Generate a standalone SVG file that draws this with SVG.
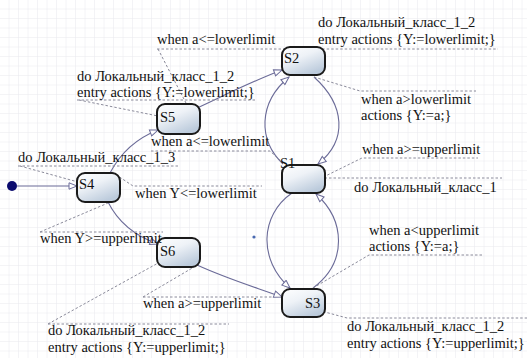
<svg xmlns="http://www.w3.org/2000/svg" width="527" height="358" viewBox="0 0 527 358">
<style>
text{font-family:"Liberation Serif","Times New Roman",serif;font-size:14.5px;fill:#111}
.node{fill:url(#ng);stroke:#1a1a1a;stroke-width:2}
.tr{fill:none;stroke:#6b6b98;stroke-width:1.1}
.ld{fill:none;stroke:#8a8a9a;stroke-width:1;stroke-dasharray:2.5,2}
</style>
<defs>
<pattern id="grid" width="9.5" height="9.5" patternUnits="userSpaceOnUse">
<path d="M9.5 0V9.5H0" fill="none" stroke="#e9e9ee" stroke-width="1"/>
</pattern>
<linearGradient id="ng" x1="0" y1="0" x2="0.6" y2="1">
<stop offset="0" stop-color="#ffffff"/>
<stop offset="0.45" stop-color="#eef2f7"/>
<stop offset="1" stop-color="#bccbdc"/>
</linearGradient>
<marker id="ah" markerWidth="10" markerHeight="8" refX="9" refY="4" orient="auto" markerUnits="userSpaceOnUse">
<path d="M1 0.8L9 4L1 7.2Z" fill="#fff" stroke="#6b6b98" stroke-width="1"/>
</marker>
</defs>
<rect width="527" height="358" fill="#fff"/>
<rect width="527" height="358" fill="url(#grid)"/>
<circle cx="254" cy="237" r="1.6" fill="#4a6ab0"/>

<g id="connectors">
<path class="tr" d="M17 186H77" marker-end="url(#ah)"/>
<path class="tr" d="M110 173C122 150 140 137 158 130" marker-end="url(#ah)"/>
<path class="tr" d="M197 108C225 95 255 80 282 70" marker-end="url(#ah)"/>
<path class="tr" d="M283 164C258 140 258 103 289 77" marker-end="url(#ah)"/>
<path class="tr" d="M314 77C345 105 348 140 318 164" marker-end="url(#ah)"/>
<path class="tr" d="M292 193C260 215 258 260 290 288" marker-end="url(#ah)"/>
<path class="tr" d="M313 288C348 262 345 220 316 194" marker-end="url(#ah)"/>
<path class="tr" d="M108 202C118 222 135 236 158 244" marker-end="url(#ah)"/>
<path class="tr" d="M197 265C230 280 258 288 282 297" marker-end="url(#ah)"/>
</g>

<g id="leaders">
<path class="ld" d="M157 49H285M158 49L187 105"/>
<path class="ld" d="M77 100H256M79 100L158 116"/>
<path class="ld" d="M151 151H270L283 163"/>
<path class="ld" d="M18 166H180M20 166L78 182"/>
<path class="ld" d="M112 172L133 186H262"/>
<path class="ld" d="M40 232H163M40 232L108 203"/>
<path class="ld" d="M143 297H272M143 297L194 267"/>
<path class="ld" d="M48 324H229M48 324L178 252"/>
<path class="ld" d="M300 63L318 49H498"/>
<path class="ld" d="M314 77L360 91H476"/>
<path class="ld" d="M291 193L362 158H478"/>
<path class="ld" d="M302 178H502"/>
<path class="ld" d="M313 288L369 255H482"/>
<path class="ld" d="M310 308L347 318H527"/>
</g>

<g id="init"><circle cx="12" cy="186" r="5" fill="#0b0b6e"/></g>

<g id="S2"><rect class="node" x="282" y="47" width="43" height="28" rx="8"/><text x="284" y="63">S2</text></g>
<g id="S1"><rect class="node" x="282" y="165" width="43" height="28" rx="8"/><text x="280" y="168">S1</text></g>
<g id="S3"><rect class="node" x="282" y="289" width="43" height="28" rx="8"/><text x="305" y="308">S3</text></g>
<g id="S4"><rect class="node" x="77" y="173" width="43" height="29" rx="8"/><text x="79" y="189">S4</text></g>
<g id="S5"><rect class="node" x="157" y="104" width="43" height="30" rx="8"/><text x="160" y="122">S5</text></g>
<g id="S6"><rect class="node" x="157" y="238" width="43" height="29" rx="8"/><text x="160" y="256">S6</text></g>

<g id="labels">
<text x="157" y="44">when a&lt;=lowerlimit</text>
<text x="77" y="81">do Локальный_класс_1_2</text>
<text x="77" y="97">entry actions {Y:=lowerlimit;}</text>
<text x="151" y="146">when a&lt;=lowerlimit</text>
<text x="18" y="162">do Локальный_класс_1_3</text>
<text x="135" y="198">when Y&lt;=lowerlimit</text>
<text x="40" y="243">when Y&gt;=upperlimit</text>
<text x="143" y="308">when a&gt;=upperlimit</text>
<text x="48" y="335">do Локальный_класс_1_2</text>
<text x="48" y="352">entry actions {Y:=upperlimit;}</text>
<text x="318" y="27">do Локальный_класс_1_2</text>
<text x="318" y="44">entry actions {Y:=lowerlimit;}</text>
<text x="361" y="104">when a&gt;lowerlimit</text>
<text x="361" y="120">actions {Y:=a;}</text>
<text x="362" y="154">when a&gt;=upperlimit</text>
<text x="354" y="192">do Локальный_класс_1</text>
<text x="369" y="235">when a&lt;upperlimit</text>
<text x="369" y="251">actions {Y:=a;}</text>
<text x="347" y="331">do Локальный_класс_1_2</text>
<text x="347" y="348">entry actions {Y:=upperlimit;}</text>
</g>
</svg>
